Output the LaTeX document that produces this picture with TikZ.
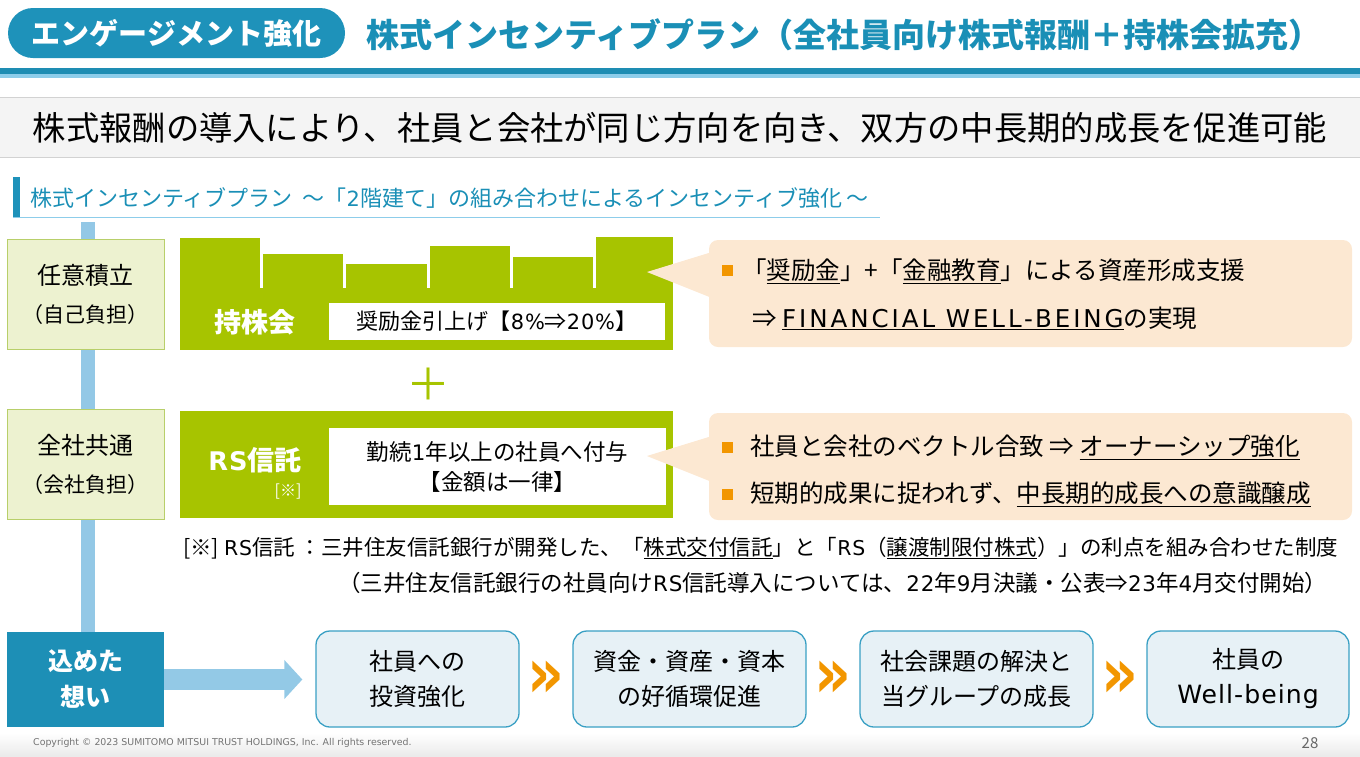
\documentclass[tikz,border=0pt]{standalone}
\usepackage{fontspec}
\setmainfont{Noto Sans CJK JP}
\newfontfamily\latinfont{DejaVu Sans}[Scale=0.95, LetterSpace=4]
\newfontfamily\latinwide{DejaVu Sans}[LetterSpace=12]
\newfontfamily\markfont{DejaVu Sans}
\usetikzlibrary{positioning,calc,arrows.meta}

\definecolor{tealmain}{HTML}{1E92BA}
\definecolor{tealtitle}{HTML}{1A8FB6}
\definecolor{linedark}{HTML}{1E8DB3}
\definecolor{linelight}{HTML}{8DCDEA}
\definecolor{bandfill}{HTML}{F4F4F4}
\definecolor{bandline}{HTML}{D2D2D2}
\definecolor{vline}{HTML}{93C8E6}
\definecolor{leftfill}{HTML}{EDF2D0}
\definecolor{leftline}{HTML}{B8CF6A}
\definecolor{planegreen}{HTML}{A7C400}
\definecolor{peach}{HTML}{FCE8D2}
\definecolor{orangemark}{HTML}{F29600}
\definecolor{flowfill}{HTML}{E7F1F6}
\definecolor{flowline}{HTML}{3AA0C4}
\definecolor{arrowblue}{HTML}{93C9E6}
\definecolor{tealbox}{HTML}{1D8FB6}

\newcommand\fsize[2]{\fontsize{#1}{#2}\selectfont}
\newcommand\lat[1]{{\latinfont #1}}

\tikzset{
  leftbox/.style={draw=leftline, fill=leftfill, line width=1pt, minimum width=157pt,
    minimum height=110pt, align=center, inner sep=0pt, font=\fsize{22}{38}},
  whitebox/.style={fill=white, inner sep=0pt, align=center},
  callout/.style={fill=peach, rounded corners=9pt, inner sep=0pt},
  bulletmark/.style={fill=orangemark, minimum size=11pt, inner sep=0pt},
  calltext/.style={anchor=west, inner sep=0pt, font=\fsize{24.5}{28}},
  flowbox/.style={draw=flowline, fill=flowfill, line width=1.3pt, rounded corners=14pt,
    minimum height=96pt, align=center, inner sep=0pt, font=\fsize{24}{35}},
  chevron/.style={text=orangemark, inner sep=0pt, font=\markfont\fsize{52}{52}\bfseries},
  notetext/.style={anchor=west, inner sep=0pt, font=\fsize{21.5}{25}},
}

\begin{document}
\begin{tikzpicture}[x=1pt, y=-1pt]
\useasboundingbox (0,0) rectangle (1360,756);

% Kopfzeile
\node[fill=tealmain, rounded corners=25pt, minimum width=337pt, minimum height=50pt,
  inner sep=0pt, text=white, font=\fsize{29}{32}\bfseries] (tag) at (176.5,33) {エンゲージメント強化};
\node[anchor=west, inner sep=0pt, text=tealtitle, font=\fsize{33}{36}\bfseries] (title) at (366,35)
  {株式インセンティブプラン（全社員向け株式報酬＋持株会拡充）};
\fill[linedark] (0,68) rectangle (1360,73.5);
\fill[linelight] (0,73.5) rectangle (1360,78);

% Leitsatz
\fill[bandfill] (0,97) rectangle (1360,157);
\draw[bandline] (0,97) -- (1360,97);
\draw[bandline] (0,157) -- (1360,157);
\node[inner sep=0pt, font=\fsize{33.3}{36}] (lead) at (680,128)
  {株式報酬の導入により、社員と会社が同じ方向を向き、双方の中長期的成長を促進可能};

% Zwischentitel
\fill[tealmain] (13,177) rectangle (20,218);
\draw[linelight, line width=1pt] (13,217) -- (880,217);
\node[anchor=west, inner sep=0pt, text=tealtitle, font=\fsize{22}{24}] (sub) at (30,198)
  {株式インセンティブプラン\ \ ～「\lat{2}階建て」の組み合わせによるインセンティブ強化 ～};

% linke Spalte
\coordinate (vtop) at (88,222);
\node[fill=tealbox, minimum width=157pt, minimum height=95pt, inner sep=0pt, text=white,
  align=center, font=\fsize{25}{36}\bfseries] (wish) at (85.5,679.5) {込めた\\想い};
\draw[vline, line width=14pt] (vtop) -- (vtop |- wish.north);

\node[leftbox] (self) at (85.5,294)
  {\fsize{24}{38}任意積立\\\fsize{21}{38}（自己負担）};
\node[leftbox] (firm) at (85.5,464)
  {\fsize{24}{38}全社共通\\\fsize{21}{38}（会社負担）};

% Stufe 1: Mitarbeiteraktienplan
\foreach \xa/\xb/\yt in {180/261/238, 261/344/254, 344/428/264, 428/511/246, 511/594/257, 594/673/237}
  \fill[planegreen] (\xa,\yt) rectangle (\xb,350);
\foreach \xs in {261,344,428,511,594}
  \draw[white, line width=3pt] (\xs,230) -- (\xs,288);
\node[text=white, inner sep=0pt, font=\fsize{27}{30}\bfseries] (esop) at (255,322) {持株会};
\node[whitebox, minimum width=336pt, minimum height=37pt, font=\fsize{22}{24}] (esopnote)
  at (497,321.5) {奨励金引上げ【\lat{8\%}⇒\lat{20\%}】};

\node[text=planegreen, inner sep=0pt, font=\fsize{44}{44}] (plus) at (428,384) {＋};

% Stufe 2: RS-Treuhand
\node[fill=planegreen, minimum width=493pt, minimum height=107pt, inner sep=0pt] (rs)
  at (426.5,464.5) {};
\node[text=white, inner sep=0pt, font=\fsize{27}{30}\bfseries] (rslabel) at (255,460) {\lat{RS}信託};
\node[text=white, inner sep=0pt, font=\fsize{16}{18}] (rsmark) at (288,492) {[※]};
\node[whitebox, minimum width=337pt, minimum height=77pt, font=\fsize{22.5}{30}] (rsnote)
  at (497.5,466.5) {勤続\lat{1}年以上の社員へ付与\\【金額は一律】};

% Sprechblasen
\node[callout, minimum width=643pt, minimum height=107pt] (callA) at (1030.5,293.5) {};
\fill[peach] (647,272) -- (712,252) -- (712,298) -- cycle;
\node[bulletmark] (bA1) at (727.5,270.5) {};
\node[calltext] (tA1) at (742,271)
  {「\underline{奨励金}」+「\underline{金融教育}」による資産形成支援};
\node[calltext] (tA2) at (752,318)
  {⇒ \underline{{\latinwide FINANCIAL WELL-BEING}}の実現};

\node[callout, minimum width=643pt, minimum height=107pt] (callB) at (1030.5,466.5) {};
\fill[peach] (647,456) -- (712,436) -- (712,482) -- cycle;
\node[bulletmark] (bB1) at (727.5,447) {};
\node[calltext] (tB1) at (750,447)
  {社員と会社のベクトル合致 ⇒ \underline{オーナーシップ強化}};
\node[bulletmark] (bB2) at (727.5,494) {};
\node[calltext] (tB2) at (750,494)
  {短期的成果に捉われず、\underline{中長期的成長への意識醸成}};

% Fussnote
\node[notetext] (note1) at (183,548)
  {[※] \lat{RS}信託 ：三井住友信託銀行が開発した、「\underline{株式交付信託}」と「\lat{RS}（\underline{譲渡制限付株式}）」の利点を組み合わせた制度};
\node[notetext, font=\fsize{22.5}{25}] (note2) at (338,583)
  {（三井住友信託銀行の社員向け\lat{RS}信託導入については、\lat{22}年\lat{9}月決議・公表⇒\lat{23}年\lat{4}月交付開始）};

% Wirkungskette
\node[flowbox, minimum width=203pt] (flowA) at (417.5,679) {社員への\\投資強化};
\node[flowbox, minimum width=233pt] (flowB) at (689.5,679) {資金・資産・資本\\の好循環促進};
\node[flowbox, minimum width=233pt] (flowC) at (976.5,679) {社会課題の解決と\\当グループの成長};
\node[flowbox, minimum width=202pt] (flowD) at (1248,679) {社員の\\\lat{\fsize{26.5}{35}Well-being}};
\draw[arrowblue, line width=21pt, -{Triangle[length=18pt, width=38pt]}]
  (wish.east) -- ([xshift=-13pt]flowA.west |- wish.east);
\node[chevron] (chevAB) at ($(flowA.east)!0.5!(flowB.west)$) {\scalebox{1.1}[1.35]{»}};
\node[chevron] (chevBC) at ($(flowB.east)!0.5!(flowC.west)$) {\scalebox{1.1}[1.35]{»}};
\node[chevron] (chevCD) at ($(flowC.east)!0.5!(flowD.west)$) {\scalebox{1.1}[1.35]{»}};

% Fusszeile
\shade[top color=white, bottom color=black!8] (0,733) rectangle (1360,756);
\node[anchor=west, inner sep=0pt, text=black!55, font=\markfont\fsize{9.4}{11}] (copy) at (33,743)
  {Copyright © 2023 SUMITOMO MITSUI TRUST HOLDINGS, Inc. All rights reserved.};
\node[inner sep=0pt, text=black!60, font=\fsize{15}{17}] (page) at (1310,743) {28};
\end{tikzpicture}
\end{document}
